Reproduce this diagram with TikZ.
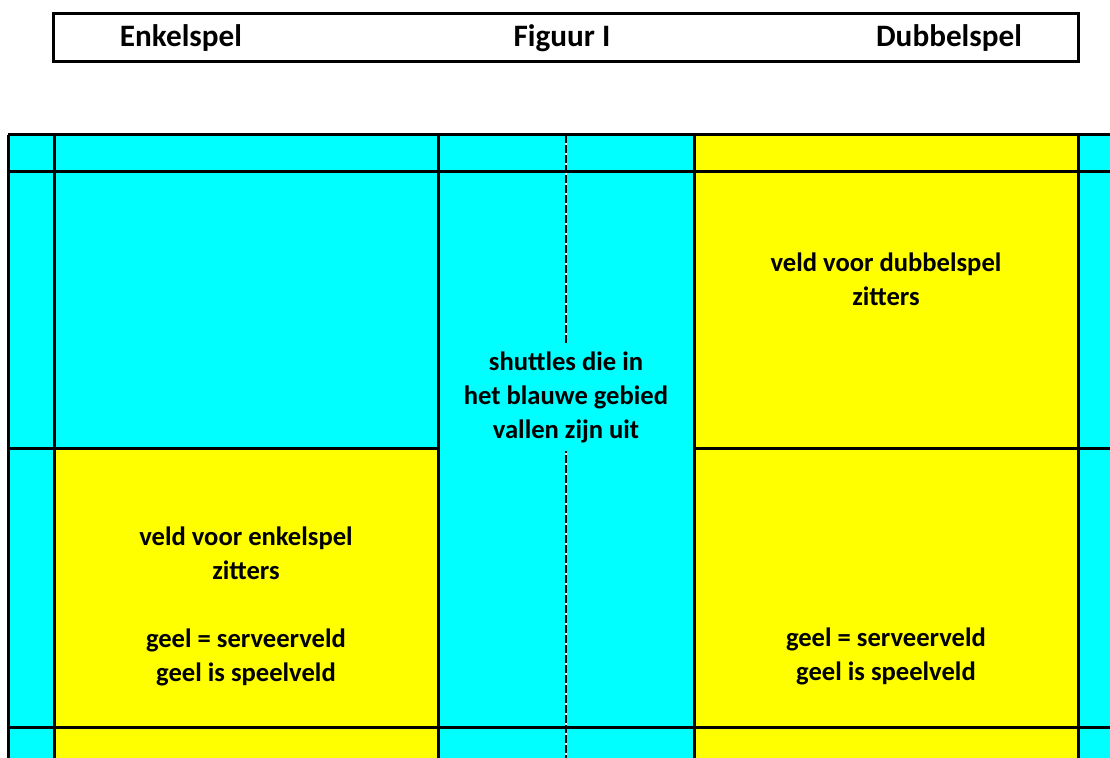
\documentclass[tikz,border=0pt]{standalone}
\usepackage{fontspec}
\setmainfont{Carlito}
\usetikzlibrary{calc}
\definecolor{uitblauw}{RGB}{0,255,255}
\definecolor{veldgeel}{RGB}{255,255,0}

\begin{document}
\begin{tikzpicture}[x=0.5pt, y=-0.5pt,
  lijn/.style={line width=1.5pt},
  kop/.style={font=\bfseries\fontsize{15.6}{18}\selectfont, inner sep=0pt},
  tekst/.style={font=\bfseries\fontsize{13.3}{17}\selectfont, align=center, inner sep=0pt}]
\useasboundingbox (0,0) rectangle (1110,758);
\clip (0,0) rectangle (1110,758);

% Heading box
\draw[lijn] (53,14) rectangle (1078,62);
\node[kop] (enkel) at (181,38) {Enkelspel};
\node[kop] (figuur) at (562,38) {Figuur I};
\node[kop] (dubbel) at (949,38) {Dubbelspel};

% Fill the court
\pgfmathsetmacro{\top}{135}
\pgfmathsetmacro{\bot}{790}
\fill[uitblauw] (8,\top) rectangle (1130,\bot);
\fill[veldgeel] (54,449) rectangle (438,\bot);
\fill[veldgeel] (694,\top) rectangle (1078,\bot);

% Draw the net
\draw[white, line width=1pt] (566,\top) -- (566,\bot);
\draw[line width=1pt, dash pattern=on 4pt off 1pt] (566,\top) -- (566,\bot);

% Court lines
\foreach \x in {8,54,438,694,1078}
  \draw[lijn] (\x,\top) -- (\x,\bot);
\foreach \y in {135,172,728}
  \draw[lijn] (8,\y) -- (1130,\y);
\draw[lijn] (8,449) -- (438,449);
\draw[lijn] (694,449) -- (1130,449);

% Labels
\node[tekst, fill=uitblauw, minimum height=54pt, minimum width=10pt] (uit) at (566,397)
  {shuttles die in\\het blauwe gebied\\vallen zijn uit};
\node[tekst] (dubbelveld) at (886,279) {veld voor dubbelspel\\zitters};
\node[tekst] (enkelveld) at (246,606)
  {veld voor enkelspel\\zitters\\[17pt]geel = serveerveld\\geel is speelveld};
\node[tekst] (serve) at (886,656) {geel = serveerveld\\geel is speelveld};
\end{tikzpicture}
\end{document}
